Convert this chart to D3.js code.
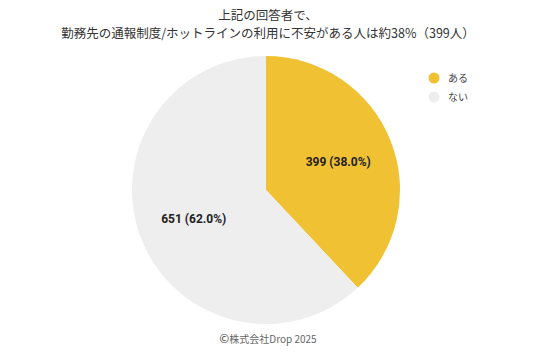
<!DOCTYPE html>
<html>
<head>
<meta charset="utf-8">
<script src="https://cdn.jsdelivr.net/npm/d3@7"></script>
<style>
  body { margin: 0; background: #fff; }
  text { font-family: "Noto Sans CJK JP", "Noto Sans", sans-serif; }
</style>
</head>
<body>
<div id="chart"></div>
<script>
var categories = ["ある", "ない"];
var counts = [399, 651];
var colors = ["#F0C132", "#EEEEEE"];
var titleLines = ["上記の回答者で、", "勤務先の通報制度/ホットラインの利用に不安がある人は約38%（399人）"];

var w = 536, h = 352;
var cx = 266, cy = 190, radius = 134;

var svg = d3.select("#chart")
    .append("svg")
    .attr("width", w)
    .attr("height", h);

// title
svg.selectAll(".title")
    .data(titleLines)
    .enter().append("text")
    .attr("class", "title")
    .attr("x", w / 2)
    .attr("y", function(d, i) { return 20 + i * 18; })
    .attr("text-anchor", "middle")
    .attr("font-size", 12.5)
    .attr("fill", "#333")
    .text(function(d) { return d; });

var total = d3.sum(counts);
var pieData = categories.map(function(c, i) { return { name: c, value: counts[i], color: colors[i] }; });

var pie = d3.pie()
    .sort(null)
    .value(function(d) { return d.value; });

var arc = d3.arc().innerRadius(0).outerRadius(radius);
var labelArc = d3.arc().innerRadius(radius * 0.58).outerRadius(radius * 0.58);

var g = svg.append("g")
    .attr("transform", "translate(" + cx + "," + cy + ")");

var slices = pie(pieData);

g.selectAll(".slice")
    .data(slices)
    .enter().append("path")
    .attr("class", "slice")
    .attr("d", arc)
    .attr("fill", function(d) { return d.data.color; });

g.selectAll(".label")
    .data(slices)
    .enter().append("text")
    .attr("class", "label")
    .attr("transform", function(d) { return "translate(" + labelArc.centroid(d) + ")"; })
    .attr("text-anchor", "middle")
    .attr("dy", "0.35em")
    .attr("font-size", 12)
    .attr("font-weight", "bold")
    .style("font-family", "Roboto, sans-serif")
    .attr("fill", "#222")
    .text(function(d) { return d.data.value + " (" + (d.data.value / total * 100).toFixed(1) + "%)"; });

// legend
var leg = svg.selectAll(".legend")
    .data(pieData)
    .enter().append("g")
    .attr("class", "legend")
    .attr("transform", function(d, i) { return "translate(434," + (78 + i * 19) + ")"; });

leg.append("circle")
    .attr("r", 5.5)
    .attr("fill", function(d) { return d.color; });

leg.append("text")
    .attr("x", 14)
    .attr("dy", "0.35em")
    .attr("font-size", 10)
    .attr("fill", "#444")
    .text(function(d) { return d.name; });

// footer
var foot = svg.append("text")
    .attr("x", w / 2)
    .attr("y", 343)
    .attr("text-anchor", "middle")
    .attr("font-size", 10)
    .attr("fill", "#666");
foot.append("tspan").attr("font-size", 12).attr("fill", "#444").text("©");
foot.append("tspan").text("株式会社Drop 2025");
</script>
</body>
</html>
